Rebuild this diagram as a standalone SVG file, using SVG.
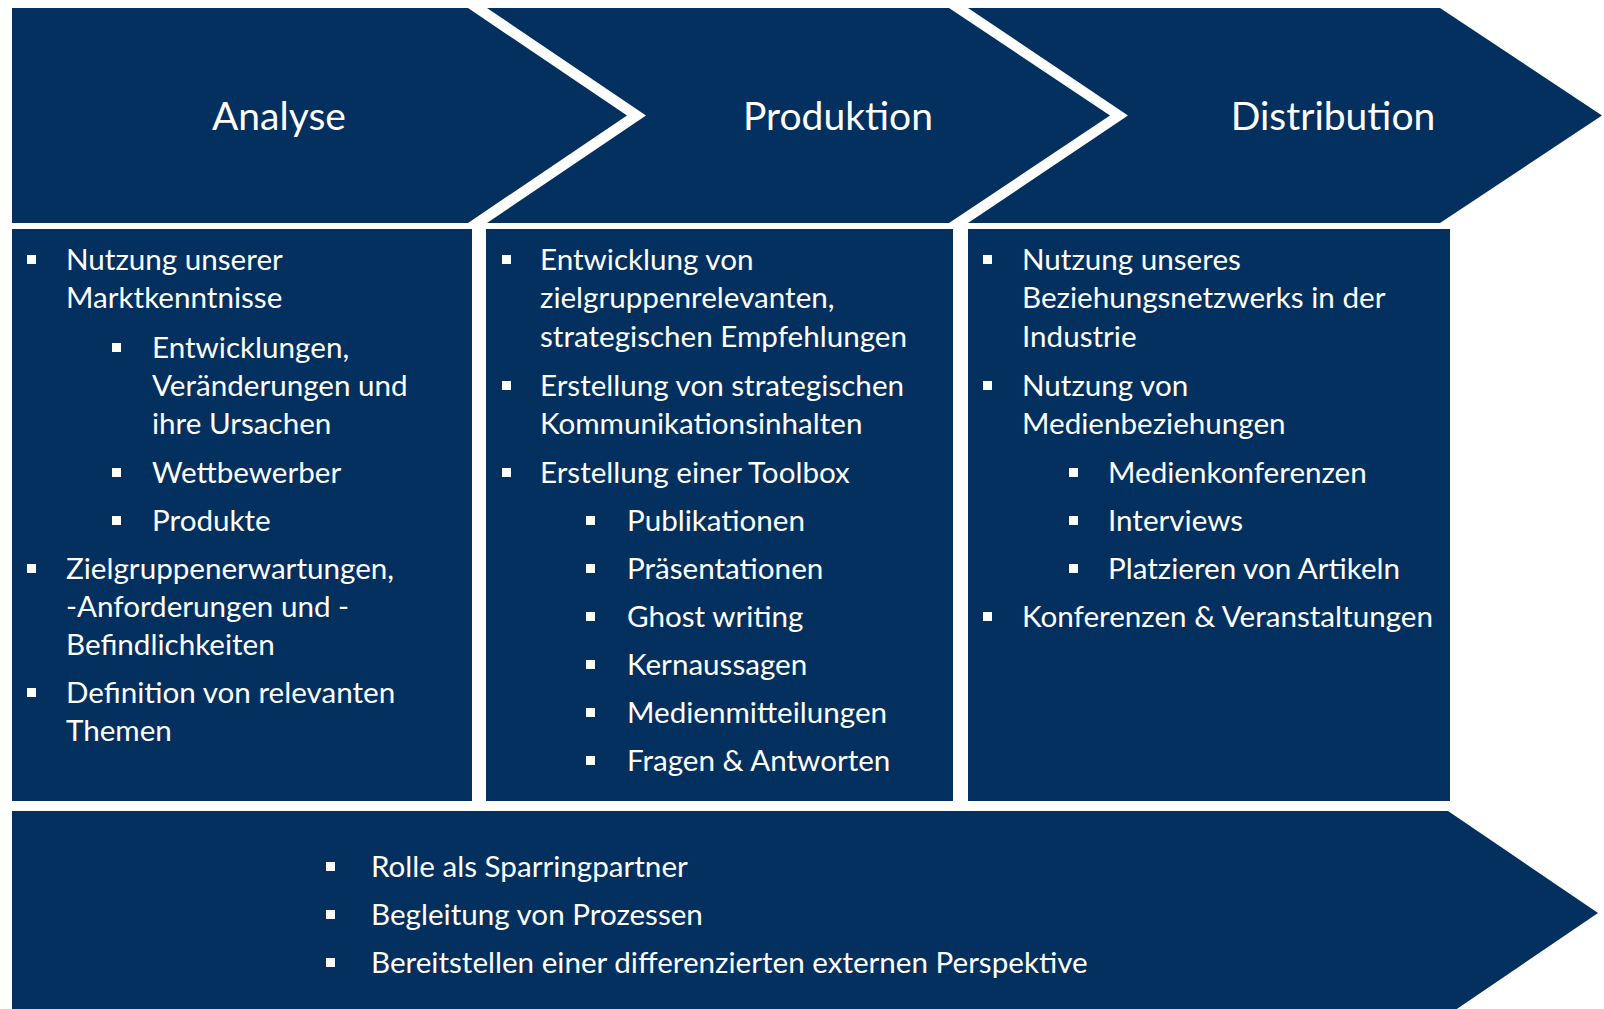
<svg xmlns="http://www.w3.org/2000/svg" width="1604" height="1009" viewBox="0 0 1604 1009">
<style>
.shape{fill:#03305e}
.h{font-family:Lato,"Liberation Sans",sans-serif;font-size:39px;fill:#ffffff;text-anchor:middle}
.t{font-family:Lato,"Liberation Sans",sans-serif;font-size:29.6px;fill:#ffffff}
.b{fill:#ffffff}
</style>
<defs>
<rect id="bl" class="b" width="9" height="9"/>
</defs>
<rect width="1604" height="1009" fill="#ffffff"/>

<g id="connectors"></g>

<g id="analyse-header">
<polygon class="shape" points="12,8 468,8 627,115.5 468,223 12,223"/>
<text class="h" x="279" y="130">Analyse</text>
</g>
<g id="produktion-header">
<polygon class="shape" points="487,8 949,8 1110,115.5 949,223 487,223 646,115.5"/>
<text class="h" x="838" y="130">Produktion</text>
</g>
<g id="distribution-header">
<polygon class="shape" points="968,8 1440,8 1602,115.5 1440,223 968,223 1128,115.5"/>
<text class="h" x="1333" y="130">Distribution</text>
</g>

<g id="analyse-box">
<rect class="shape" x="12" y="229" width="460" height="572"/>
<use href="#bl" x="27" y="255"/>
<text class="t" x="66" y="270">Nutzung unserer</text>
<text class="t" x="66" y="308">Marktkenntnisse</text>
<use href="#bl" x="112" y="343"/>
<text class="t" x="152" y="358">Entwicklungen,</text>
<text class="t" x="152" y="396">Veränderungen und</text>
<text class="t" x="152" y="434">ihre Ursachen</text>
<use href="#bl" x="112" y="468"/>
<text class="t" x="152" y="483">Wettbewerber</text>
<use href="#bl" x="112" y="516"/>
<text class="t" x="152" y="531">Produkte</text>
<use href="#bl" x="27" y="564"/>
<text class="t" x="66" y="579">Zielgruppenerwartungen,</text>
<text class="t" x="66" y="617">-Anforderungen und -</text>
<text class="t" x="66" y="655">Befindlichkeiten</text>
<use href="#bl" x="27" y="688"/>
<text class="t" x="66" y="703">Definition von relevanten</text>
<text class="t" x="66" y="741">Themen</text>
</g>

<g id="produktion-box">
<rect class="shape" x="486" y="229" width="467" height="572"/>
<use href="#bl" x="502" y="255"/>
<text class="t" x="540" y="270">Entwicklung von</text>
<text class="t" x="540" y="308">zielgruppenrelevanten,</text>
<text class="t" x="540" y="347">strategischen Empfehlungen</text>
<use href="#bl" x="502" y="381"/>
<text class="t" x="540" y="396">Erstellung von strategischen</text>
<text class="t" x="540" y="434">Kommunikationsinhalten</text>
<use href="#bl" x="502" y="468"/>
<text class="t" x="540" y="483">Erstellung einer Toolbox</text>
<use href="#bl" x="586" y="516"/>
<text class="t" x="627" y="531">Publikationen</text>
<use href="#bl" x="586" y="564"/>
<text class="t" x="627" y="579">Präsentationen</text>
<use href="#bl" x="586" y="612"/>
<text class="t" x="627" y="627">Ghost writing</text>
<use href="#bl" x="586" y="660"/>
<text class="t" x="627" y="675">Kernaussagen</text>
<use href="#bl" x="586" y="708"/>
<text class="t" x="627" y="723">Medienmitteilungen</text>
<use href="#bl" x="586" y="756"/>
<text class="t" x="627" y="771">Fragen &amp; Antworten</text>
</g>

<g id="distribution-box">
<rect class="shape" x="968" y="229" width="482" height="572"/>
<use href="#bl" x="983" y="255"/>
<text class="t" x="1022" y="270">Nutzung unseres</text>
<text class="t" x="1022" y="308">Beziehungsnetzwerks in der</text>
<text class="t" x="1022" y="347">Industrie</text>
<use href="#bl" x="983" y="381"/>
<text class="t" x="1022" y="396">Nutzung von</text>
<text class="t" x="1022" y="434">Medienbeziehungen</text>
<use href="#bl" x="1069" y="468"/>
<text class="t" x="1108" y="483">Medienkonferenzen</text>
<use href="#bl" x="1069" y="516"/>
<text class="t" x="1108" y="531">Interviews</text>
<use href="#bl" x="1069" y="564"/>
<text class="t" x="1108" y="579">Platzieren von Artikeln</text>
<use href="#bl" x="983" y="612"/>
<text class="t" x="1022" y="627">Konferenzen &amp; Veranstaltungen</text>
</g>

<g id="bottom-arrow">
<polygon class="shape" points="12,811 1448,811 1598,913 1448,1015 12,1015"/>
<use href="#bl" x="326" y="862"/>
<text class="t" x="371" y="877">Rolle als Sparringpartner</text>
<use href="#bl" x="326" y="910"/>
<text class="t" x="371" y="925">Begleitung von Prozessen</text>
<use href="#bl" x="326" y="958"/>
<text class="t" x="371" y="973">Bereitstellen einer differenzierten externen Perspektive</text>
</g>
</svg>
